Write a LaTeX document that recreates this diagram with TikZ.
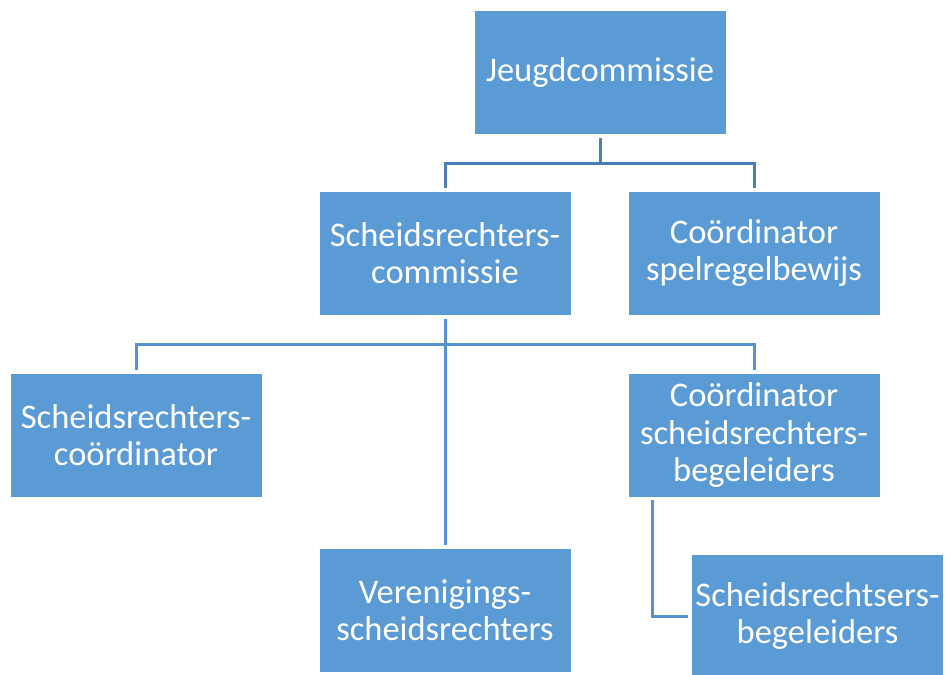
\documentclass[tikz,border=0pt]{standalone}
\usepackage{fontspec}
\setmainfont{Carlito}
\definecolor{boxblue}{HTML}{5B9BD5}
\definecolor{linedark}{HTML}{4A7EBB}
\definecolor{linelight}{HTML}{5592CF}
\begin{document}
\begin{tikzpicture}[x=1pt,y=-1pt,
  orgbox/.style={rectangle,fill=boxblue,draw=white,line width=1pt,text=white,align=center,
    minimum width=252pt,minimum height=124pt,inner sep=0pt,font=\fontsize{34.5}{37.5}\selectfont},
  topline/.style={draw=linedark,line width=3pt},
  lowline/.style={draw=linelight,line width=3pt},
  gapstart/.style={shorten <=3pt},
  gapend/.style={shorten >=3pt}]
\useasboundingbox (0,0) rectangle (946,675);
\node[orgbox] (jc) at (600,72) {Jeugdcommissie};
\node[orgbox] (src) at (445,253) {Scheidsrechters-\\commissie};
\node[orgbox] (csb) at (754,253) {Coördinator\\spelregelbewijs};
\node[orgbox] (sco) at (136,435) {Scheidsrechters-\\coördinator};
\node[orgbox] (csrb) at (754,435) {Coördinator\\scheidsrechters-\\begeleiders};
\node[orgbox] (vsr) at (445,610.5) {Verenigings-\\scheidsrechters};
\node[orgbox] (srb) at (817.5,616) {Scheidsrechtsers-\\begeleiders};
\coordinate (j1) at (600,163);
\coordinate (s1) at (445,344);
\coordinate (b1) at (652,497);
\draw[topline,gapstart,gapend] (jc.south) -- (j1) -| (src.north);
\draw[topline,gapend] (j1) -| (csb.north);
\draw[lowline,gapstart,gapend] (src.south) -- (s1) -| (sco.north);
\draw[lowline,gapend] (s1) -| (csrb.north);
\draw[lowline,gapend] (s1) -- (vsr.north);
\draw[lowline,gapstart,gapend] (b1) |- (srb.west);
\end{tikzpicture}
\end{document}
